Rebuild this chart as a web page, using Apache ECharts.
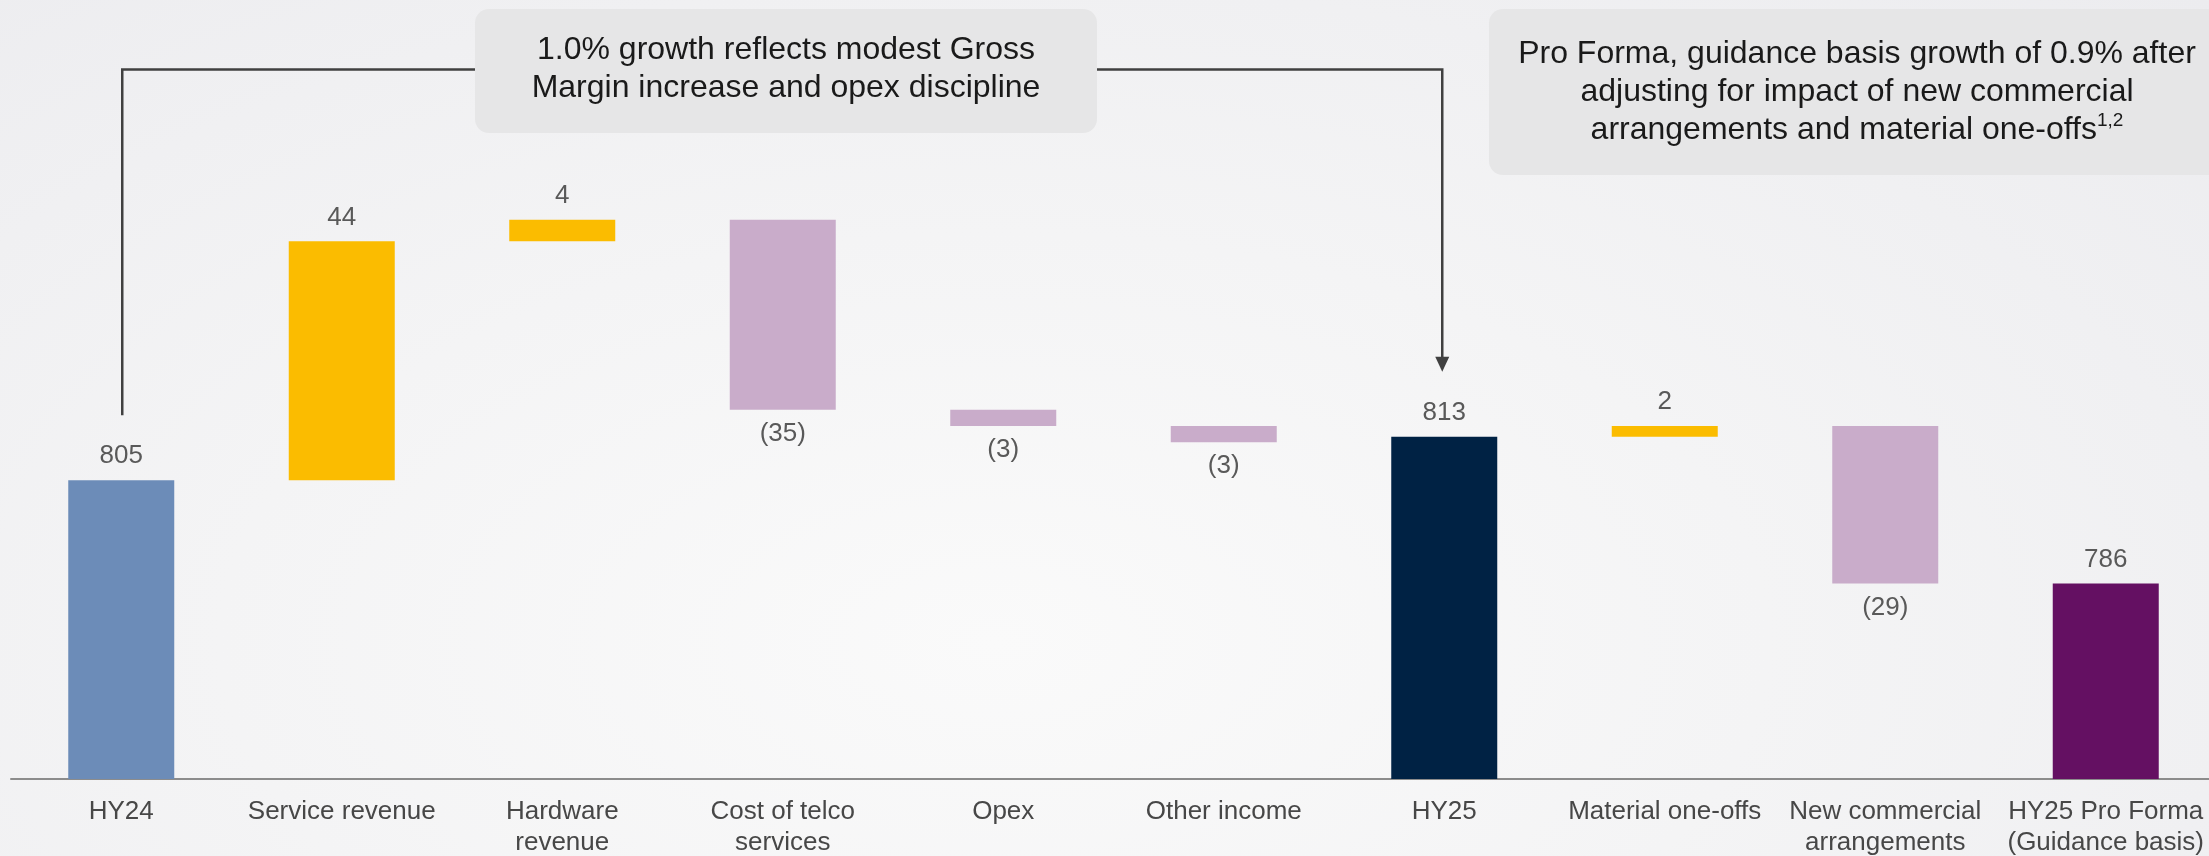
<!DOCTYPE html>
<html>
<head>
<meta charset="utf-8">
<title>HY24 to HY25 bridge</title>
<script src="https://cdn.jsdelivr.net/npm/echarts@6/dist/echarts.min.js"></script>
<style>
  html, body {
    margin: 0;
    padding: 0;
    width: 2209px;
    height: 856px;
    overflow: hidden;
    background: radial-gradient(ellipse at 45% 75%, #fafafa 0%, #f4f4f5 45%, #ececef 100%);
  }
  #chart {
    width: 2209px;
    height: 856px;
  }
</style>
</head>
<body>
<div id="chart"></div>
<script>
// bridge data
const categories = [
  'HY24', 'Service revenue', 'Hardware\nrevenue', 'Cost of telco\nservices', 'Opex',
  'Other income', 'HY25', 'Material one-offs', 'New commercial\narrangements',
  'HY25 Pro Forma\n(Guidance basis)'
];
const values = [805, 44, 4, -35, -3, -3, 813, 2, -29, 786];
const kinds = ['total', 'delta', 'delta', 'delta', 'delta', 'delta', 'total', 'delta', 'delta', 'total'];

const totalColors = ['#6c8cb8', '#002244', '#641062'];
const upColor = '#fbbc00';
const downColor = '#c9acca';

// running total -> invisible base + visible piece
const baseData = [];
const barData = [];
let running = 0;
let t = 0;
values.forEach((v, i) => {
  if (kinds[i] === 'total') {
    running = v;
    baseData.push(0);
    barData.push({
      value: v,
      itemStyle: { color: totalColors[t++] },
      label: { position: 'top' }
    });
  } else {
    const lo = v >= 0 ? running : running + v;
    running += v;
    baseData.push(lo);
    barData.push({
      value: Math.abs(v),
      itemStyle: { color: v >= 0 ? upColor : downColor },
      label: { position: v >= 0 ? 'top' : 'bottom' }
    });
  }
});

const fmt = v => (v < 0 ? '(' + (-v) + ')' : String(v));

const chart = echarts.init(document.getElementById('chart'));
chart.setOption({
  backgroundColor: 'transparent',
  animation: false,
  textStyle: { fontFamily: 'Liberation Sans, Arial, sans-serif' },
  grid: { left: 11, right: -7, top: 73, bottom: 77, containLabel: false, outerBoundsMode: 'none' },
  xAxis: {
    type: 'category',
    data: categories,
    axisLine: { lineStyle: { color: '#8c8c8c', width: 2 } },
    axisTick: { show: false },
    axisLabel: {
      color: '#474747',
      fontSize: 26,
      lineHeight: 31,
      margin: 17,
      interval: 0
    }
  },
  yAxis: {
    type: 'value',
    min: 750,
    max: 880,
    show: false,
    splitLine: { show: false }
  },
  series: [
    {
      type: 'bar',
      stack: 'bridge',
      data: baseData,
      barWidth: 106,
      itemStyle: { color: 'transparent' },
      silent: true
    },
    {
      type: 'bar',
      stack: 'bridge',
      data: barData,
      barWidth: 106,
      label: {
        show: true,
        fontSize: 26,
        color: '#595959',
        distance: 11,
        formatter: p => fmt(values[p.dataIndex])
      }
    }
  ]
});

// callouts, hooked onto the bars through the axis scales
const iFrom = 0;
const iTo = 6;
const p0 = chart.convertToPixel({ gridIndex: 0 }, [iFrom, values[iFrom]]);
const p1 = chart.convertToPixel({ gridIndex: 0 }, [iTo, values[iTo]]);
const ax = p1[0] - 2;
const lineY = 69.5;
const gap = 65;
const lineStyle = { stroke: '#404040', lineWidth: 2.5, fill: null };

chart.setOption({
  graphic: [
    {
      type: 'polyline',
      shape: { points: [[p0[0] + 1, p0[1] - gap], [p0[0] + 1, lineY], [475, lineY]] },
      style: lineStyle
    },
    {
      type: 'polyline',
      shape: { points: [[1097, lineY], [ax, lineY], [ax, p1[1] - gap - 14]] },
      style: lineStyle
    },
    {
      type: 'polygon',
      shape: { points: [[ax - 7, p1[1] - gap - 15], [ax + 7, p1[1] - gap - 15], [ax, p1[1] - gap]] },
      style: { fill: '#404040' }
    },
    {
      type: 'rect',
      shape: { x: 475, y: 9, width: 622, height: 124, r: 14 },
      style: { fill: '#e6e6e7' }
    },
    {
      type: 'text',
      x: 786,
      y: 69,
      style: {
        text: '1.0% growth reflects modest Gross\nMargin increase and opex discipline',
        fill: '#1a1a1a',
        font: '32px "Liberation Sans", Arial, sans-serif',
        lineHeight: 38,
        align: 'center',
        verticalAlign: 'middle'
      }
    },
    {
      type: 'rect',
      shape: { x: 1489, y: 9, width: 740, height: 166, r: 14 },
      style: { fill: '#e6e6e7' }
    },
    {
      type: 'text',
      x: 1857,
      y: 92,
      style: {
        text: 'Pro Forma, guidance basis growth of 0.9% after\nadjusting for impact of new commercial\narrangements and material one-offs{sup|1,2}',
        fill: '#1a1a1a',
        font: '32px "Liberation Sans", Arial, sans-serif',
        lineHeight: 38,
        align: 'center',
        verticalAlign: 'middle',
        rich: {
          sup: {
            fontSize: 19,
            fill: '#1a1a1a',
            verticalAlign: 'top',
            lineHeight: 38
          }
        }
      }
    }
  ]
});
</script>
</body>
</html>
